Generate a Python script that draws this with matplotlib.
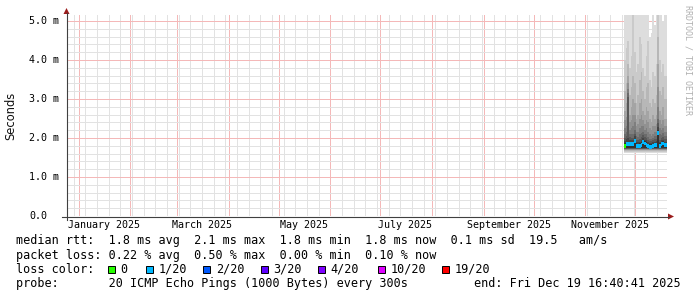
import datetime as dt
import matplotlib
matplotlib.use('Agg')
from matplotlib import pyplot as plt
from matplotlib import dates as mdates
from matplotlib import transforms
from matplotlib.patches import Polygon, Rectangle
from matplotlib.ticker import MultipleLocator
import numpy as np

# ---- data -------------------------------------------------------------
end_time = dt.datetime(2025, 12, 19, 16, 40, 41)
start_time = end_time - dt.timedelta(days=360)
first_sample = dt.datetime(2025, 11, 24, 6, 0)

# daily median rtt (ms)
median_ms = [1.80, 1.84, 1.85, 1.85, 1.84, 1.84, 1.92, 1.80, 1.79, 1.80,
             1.83, 1.89, 1.86, 1.83, 1.79, 1.78, 1.78, 1.79, 1.81, 1.82,
             2.13, 1.80, 1.84, 1.86, 1.81]
# index into loss_colors for every sample
loss_class = [0] + [1] * 24

# smoke: lower ping of each pair (constant), upper ping per day (ms)
smoke_bottom = [1.62, 1.65, 1.67, 1.69, 1.70, 1.71, 1.72, 1.73, 1.74, 1.75]
top_p20 = [5.4, 5.4, 5.4, 5.4, 5.4, 5.4, 5.4, 5.4, 5.4, 5.4, 5.4, 5.4, 5.4,
           5.4, 5.4, 4.6, 4.7, 5.4, 4.9, 5.4, 5.4, 5.4, 5.4, 5.0, 5.4]
top_p19 = [4.0, 4.3, 4.5, 3.8, 4.1, 5.4, 4.2, 3.7, 3.9, 4.6, 4.4, 3.8, 3.6,
           4.1, 4.5, 3.5, 3.3, 3.7, 3.6, 3.9, 5.4, 4.0, 3.7, 3.9, 3.6]
top_p18 = [3.2, 3.4, 3.9, 3.1, 3.3, 3.6, 3.4, 2.9, 3.1, 3.5, 3.7, 3.2, 3.0,
           3.3, 3.4, 2.9, 2.8, 3.0, 2.9, 3.1, 4.6, 3.2, 3.1, 3.3, 3.0]
top_p17 = [2.7, 2.9, 3.6, 2.6, 2.8, 3.0, 2.9, 2.5, 2.6, 2.9, 3.0, 2.7, 2.6,
           2.8, 2.7, 2.5, 2.4, 2.6, 2.5, 2.6, 3.9, 2.7, 2.6, 2.8, 2.5]
top_p16 = [2.45, 2.55, 3.4, 2.4, 2.45, 2.6, 2.6, 2.3, 2.35, 2.5, 2.6, 2.45,
           2.35, 2.45, 2.4, 2.25, 2.2, 2.3, 2.3, 2.35, 3.3, 2.45, 2.35, 2.45,
           2.3]
top_p15 = [2.25, 2.3, 3.25, 2.2, 2.25, 2.3, 2.4, 2.15, 2.15, 2.25, 2.3,
           2.3, 2.2, 2.25, 2.15, 2.1, 2.05, 2.1, 2.15, 2.15, 2.8, 2.25, 2.2,
           2.25, 2.15]
top_p14 = [2.1, 2.15, 3.15, 2.1, 2.1, 2.1, 2.2, 2.05, 2.02, 2.1, 2.12, 2.15,
           2.1, 2.1, 2.02, 1.98, 1.97, 2.0, 2.05, 2.05, 2.5, 2.1, 2.08, 2.12,
           2.05]
top_p13 = [2.0, 2.05, 3.05, 2.02, 2.0, 2.0, 2.1, 1.96, 1.94, 1.97, 2.02,
           2.07, 2.02, 2.0, 1.94, 1.92, 1.92, 1.94, 1.97, 1.98, 2.38, 1.96,
           2.0, 2.03, 1.97]
top_p12 = [1.93, 1.97, 1.99, 1.96, 1.95, 1.95, 2.04, 1.91, 1.89, 1.91,
           1.94, 2.0, 1.96, 1.94, 1.89, 1.87, 1.87, 1.89, 1.91, 1.92,
           2.28, 1.91, 1.94, 1.96, 1.91]
top_p11 = [1.86, 1.9, 1.91, 1.91, 1.9, 1.9, 1.98, 1.86, 1.85, 1.86,
           1.89, 1.95, 1.92, 1.89, 1.85, 1.84, 1.84, 1.85, 1.87, 1.88,
           2.2, 1.86, 1.9, 1.92, 1.87]
smoke_tops = [top_p20, top_p19, top_p18, top_p17, top_p16,
              top_p15, top_p14, top_p13, top_p12, top_p11]
smoke_greys = ['#dddddd', '#cacaca', '#b7b7b7', '#a4a4a4', '#919191',
               '#7e7e7e', '#6b6b6b', '#585858', '#454545', '#323232']

loss_labels = ['0', '1/20', '2/20', '3/20', '4/20', '10/20', '19/20']
loss_colors = ['#26ff00', '#00b8ff', '#0059ff', '#5e00ff', '#7e00ff',
               '#dd00ff', '#ff0000']

y_ticks = [0, 1, 2, 3, 4, 5]
y_tick_labels = ['0.0', '1.0 m', '2.0 m', '3.0 m', '4.0 m', '5.0 m']
month_labels = ['January 2025', 'March 2025', 'May 2025', 'July 2025',
                'September 2025', 'November 2025']
month_numbers = [1, 3, 5, 7, 9, 11]

line_rtt = ('median rtt:  1.8 ms avg  2.1 ms max  1.8 ms min  1.8 ms now'
            '  0.1 ms sd  19.5   am/s')
line_loss = 'packet loss: 0.22 % avg  0.50 % max  0.00 % min  0.10 % now'
line_probe = 'probe:       20 ICMP Echo Pings (1000 Bytes) every 300s'
line_end = 'end: Fri Dec 19 16:40:41 2025'

# ---- layout (pixels) --------------------------------------------------
W, H, DPI = 697, 297, 100
X0, X1, Y0, Y1 = 66.5, 666.5, 216, 15
PX_PER_MS = 39.0
MONO = 'DejaVu Sans Mono'

fig = plt.figure(figsize=(W / DPI, H / DPI), dpi=DPI, facecolor='white')
ax = fig.add_axes([X0 / W, 1 - Y0 / H, (X1 - X0) / W, (Y0 - Y1) / H])
ax.set_facecolor('white')
ax.set_xlim(mdates.date2num(start_time), mdates.date2num(end_time))
ax.set_ylim(0, (Y0 - Y1) / PX_PER_MS)

# smoke
t = [first_sample + dt.timedelta(days=i) for i in range(len(median_ms))]
tn = mdates.date2num(t + [end_time])
for k in range(len(smoke_tops)):
    top = list(smoke_tops[k]) + [smoke_tops[k][-1]]
    ax.fill_between(tn, smoke_bottom[k], top, step='post',
                    color=smoke_greys[k], lw=0, zorder=1, antialiased=False)

# median, coloured by loss
med = np.array(median_ms)
ax.bar(tn[:-1], 0.1, bottom=med - 0.05, width=np.diff(tn), align='edge',
       color=[loss_colors[c] for c in loss_class], lw=0, zorder=3)

# grid (dotted in the original, drawn as light solid lines here)
ax.xaxis.set_major_locator(mdates.MonthLocator())
ax.xaxis.set_minor_locator(mdates.WeekdayLocator(byweekday=mdates.SU))
ax.yaxis.set_major_locator(MultipleLocator(1))
ax.yaxis.set_minor_locator(MultipleLocator(0.2))
ax.grid(which='minor', color='#e2e2e2', lw=0.72)
ax.grid(which='major', color='#f4b8b8', lw=0.72)
ax.set_axisbelow(True)
ax.tick_params(which='both', length=0, labelbottom=False, labelleft=False)
for s in ax.spines.values():
    s.set_visible(False)

for m, lab in zip(month_numbers, month_labels):
    ax.text(mdates.date2num(dt.datetime(2025, m, 16)), -8.5 / (Y0 - Y1), lab,
            transform=ax.get_xaxis_transform(), ha='center', va='center',
            family=MONO, size=7.2, color='black')

# overlay in pixel coordinates for axes, arrows and legend
ov = fig.add_axes([0, 0, 1, 1], facecolor='none')
ov.set_xlim(0, W)
ov.set_ylim(H, 0)
ov.axis('off')

ov.plot([X0, X0], [219.5, 13], color='#404040', lw=0.8)
ov.plot([62, 669], [Y0 + 0.5, Y0 + 0.5], color='#404040', lw=0.8)
ov.add_patch(Polygon([[63.5, 14], [69.5, 14], [66.5, 8]], closed=True,
                     color='#9b1c1c', lw=0))
ov.add_patch(Polygon([[668, 213.5], [668, 219.5], [674, 216.5]], closed=True,
                     color='#9b1c1c', lw=0))

ytr = transforms.blended_transform_factory(ov.transData, ax.transData)
for v, lab in zip(y_ticks, y_tick_labels):
    ov.text(29, v, lab, transform=ytr, ha='left', va='center',
            family=MONO, size=7.2, color='black')

ov.text(10.5, 115.5, 'Seconds', rotation=90, ha='center', va='center',
        size=8.3, color='#111111')
ov.text(688, 5, 'RRDTOOL / TOBI OETIKER', rotation=270, ha='center',
        va='top', family=MONO, size=6, color='#b0b0b0')

row_y = [240.7, 255.0, 269.3, 283.7]
ov.text(16, row_y[0], line_rtt, family=MONO, size=8.5, va='center')
ov.text(16, row_y[1], line_loss, family=MONO, size=8.5, va='center')
ov.text(16, row_y[2], 'loss color:', family=MONO, size=8.5, va='center')
ov.text(16, row_y[3], line_probe, family=MONO, size=8.5, va='center')
ov.text(681, row_y[3], line_end, family=MONO, size=8.5, va='center',
        ha='right')

box_x = [107.7, 145.7, 203.3, 260.7, 318.3, 377.7, 442.3]
for bx, lab, col in zip(box_x, loss_labels, loss_colors):
    ov.add_patch(Rectangle((bx, row_y[2] - 3.5), 7, 7, facecolor=col,
                           edgecolor='black', lw=0.7))
    ov.text(bx + 12.5, row_y[2], lab, family=MONO, size=8.5, va='center')

fig.savefig('out.png', dpi=DPI)
